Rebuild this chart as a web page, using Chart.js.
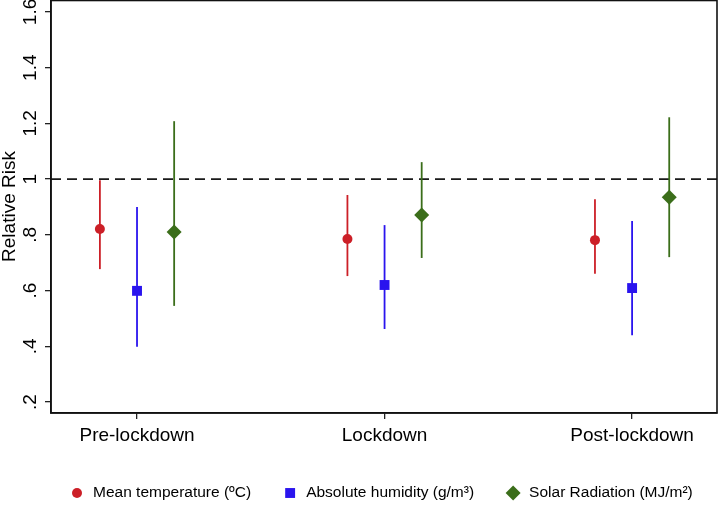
<!DOCTYPE html>
<html>
<head>
<meta charset="utf-8">
<script src="https://cdn.jsdelivr.net/npm/chart.js@4"></script>
<style>
  html, body { margin: 0; padding: 0; background: #fff; }
</style>
</head>
<body>
<canvas id="rr-chart" width="719" height="509"></canvas>
<script>
const PERIODS = ["Pre-lockdown", "Lockdown", "Post-lockdown"];
const Y_TICKS = [0.2, 0.4, 0.6, 0.8, 1, 1.2, 1.4, 1.6];

// relative risk with 95% CI, one value per period
const TEMP_RR = [0.821, 0.785, 0.781];
const TEMP_LOW = [0.677, 0.652, 0.660];
const TEMP_HIGH = [0.996, 0.943, 0.928];

const HUM_RR = [0.599, 0.620, 0.609];
const HUM_LOW = [0.398, 0.462, 0.440];
const HUM_HIGH = [0.900, 0.835, 0.850];

const SOLAR_RR = [0.810, 0.871, 0.935];
const SOLAR_LOW = [0.545, 0.717, 0.720];
const SOLAR_HIGH = [1.208, 1.061, 1.222];

const FONT = "'Liberation Sans', Arial, Helvetica, sans-serif";

// builds the points for one variable, shifted left/right of the period tick
function points(rr, low, high, shift) {
  return rr.map((v, i) => ({ x: i + 1 + shift, y: v, lo: low[i], hi: high[i] }));
}

const series = [
  { label: "Mean temperature (ºC)", data: points(TEMP_RR, TEMP_LOW, TEMP_HIGH, -0.15),
    color: "#cc1f27", style: "circle", radius: 5 },
  { label: "Absolute humidity (g/m³)", data: points(HUM_RR, HUM_LOW, HUM_HIGH, 0),
    color: "#2a14ee", style: "rect", radius: 7 },
  { label: "Solar Radiation (MJ/m²)", data: points(SOLAR_RR, SOLAR_LOW, SOLAR_HIGH, 0.15),
    color: "#3b6e1a", style: "rectRot", radius: 7.5 }
];

// dashed line at 1, CI whiskers, box frame, rotated y labels and the legend
const extras = {
  id: "extras",
  beforeDatasetsDraw(chart) {
    const { ctx, chartArea: a, scales: { x, y } } = chart;
    ctx.save();
    const y1 = y.getPixelForValue(1);
    ctx.strokeStyle = "#1a1a1a";
    ctx.lineWidth = 1.8;
    ctx.setLineDash([10, 6]);
    ctx.beginPath();
    ctx.moveTo(a.left, y1);
    ctx.lineTo(a.right, y1);
    ctx.stroke();
    ctx.setLineDash([]);

    chart.data.datasets.forEach(ds => {
      ctx.strokeStyle = ds.borderColor;
      ctx.lineWidth = 1.8;
      ds.data.forEach(p => {
        const px = x.getPixelForValue(p.x);
        ctx.beginPath();
        ctx.moveTo(px, y.getPixelForValue(p.lo));
        ctx.lineTo(px, y.getPixelForValue(p.hi));
        ctx.stroke();
      });
    });
    ctx.restore();
  },
  afterDraw(chart) {
    const { ctx, chartArea: a, scales: { y } } = chart;
    ctx.save();
    ctx.strokeStyle = "#111";
    ctx.lineWidth = 1.6;
    ctx.strokeRect(a.left, a.top + 0.5, a.right - a.left, a.bottom - a.top - 0.5);

    ctx.fillStyle = "#000";
    ctx.font = "19px " + FONT;
    ctx.textAlign = "center";
    ctx.textBaseline = "middle";
    Y_TICKS.forEach(t => {
      ctx.save();
      ctx.translate(a.left - 21, y.getPixelForValue(t));
      ctx.rotate(-Math.PI / 2);
      ctx.fillText(String(t).replace(/^0/, ""), 0, 1);
      ctx.restore();
    });

    // legend
    ctx.font = "15.5px " + FONT;
    ctx.textAlign = "left";
    const ly = 493;
    let mx = 77;
    chart.data.datasets.forEach(ds => {
      ctx.fillStyle = ds.backgroundColor;
      Chart.helpers.drawPoint(ctx, { pointStyle: ds.pointStyle, radius: ds.pointRadius, rotation: 0, borderWidth: 0 }, mx, ly);
      ctx.fillStyle = "#000";
      ctx.fillText(ds.label, mx + 16, ly);
      mx += 16 + ctx.measureText(ds.label).width + 39;
    });
    ctx.restore();
  }
};

const ctx = document.getElementById("rr-chart").getContext("2d");
new Chart(ctx, {
  type: "scatter",
  data: {
    datasets: series.map(s => ({
      label: s.label,
      data: s.data,
      backgroundColor: s.color,
      borderColor: s.color,
      borderWidth: 0,
      pointStyle: s.style,
      pointRadius: s.radius,
      pointHoverRadius: s.radius,
      showLine: false
    }))
  },
  options: {
    responsive: false,
    animation: false,
    devicePixelRatio: 1,
    layout: { autoPadding: false, padding: { top: 0, right: 2, left: 0, bottom: 46 } },
    plugins: {
      legend: { display: false },
      tooltip: { enabled: false }
    },
    scales: {
      x: {
        type: "linear",
        min: 0.6525,
        max: 3.343,
        afterBuildTicks: axis => { axis.ticks = PERIODS.map((p, i) => ({ value: i + 1 })); },
        afterFit: axis => { axis.height = 50; },
        ticks: {
          autoSkip: false,
          maxRotation: 0,
          padding: 5,
          color: "#000",
          font: { family: FONT, size: 19 },
          callback: v => PERIODS[v - 1]
        },
        grid: { drawOnChartArea: false, drawTicks: true, tickLength: 6, color: "#222", lineWidth: 1.3 },
        border: { display: true, color: "#111", width: 1.6 }
      },
      y: {
        min: 0.1605,
        max: 1.643,
        afterBuildTicks: axis => { axis.ticks = Y_TICKS.map(v => ({ value: v })); },
        afterFit: axis => { axis.width = 51; },
        ticks: { display: false },
        title: {
          display: true,
          text: "Relative Risk",
          color: "#000",
          padding: 0,
          font: { family: FONT, size: 19, lineHeight: 1 }
        },
        grid: { drawOnChartArea: false, drawTicks: true, tickLength: 6, color: "#222", lineWidth: 1.3 },
        border: { display: true, color: "#111", width: 1.6 }
      }
    }
  },
  plugins: [extras]
});
</script>
</body>
</html>
